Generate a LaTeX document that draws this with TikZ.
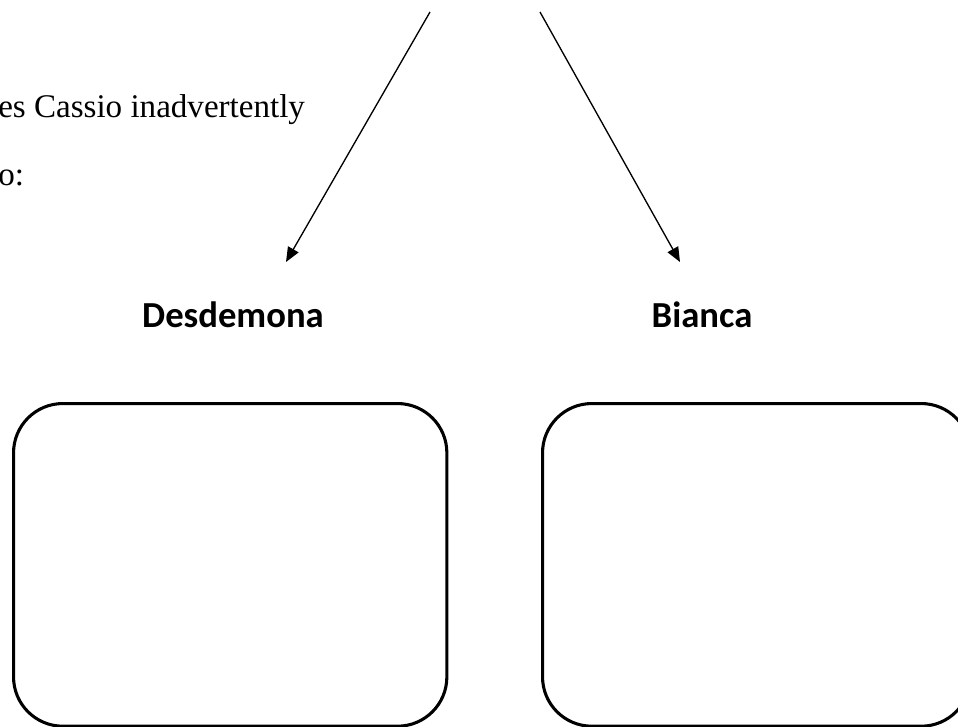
\documentclass[tikz,border=0pt]{standalone}
\usepackage{fontspec}
\setmainfont{Liberation Serif}
\newfontfamily\labelfont{Carlito}
\usetikzlibrary{arrows.meta}
\tikzset{
	namelabel/.style={font=\labelfont\bfseries\fontsize{27.5}{32}\selectfont, inner sep=0pt, anchor=base},
	bodytext/.style={font=\fontsize{24.8}{29}\selectfont, inner sep=0pt, anchor=base west},
	pointer/.style={line width=1pt, -{Triangle[length=11pt, width=9pt]}},
	answerbox/.style={draw, line width=2.3pt, rounded corners=37pt, minimum width=325pt, minimum height=242pt, inner sep=0pt, anchor=north west}
}
\begin{document}
\begin{tikzpicture}[x=0.75pt, y=-0.75pt]
		\useasboundingbox (0,0) rectangle (958,726);

	\node[bodytext] (line1) at (-2,117) {es Cassio inadvertently};
	\node[bodytext] (line2) at (-2,185) {o:};

	\coordinate (leftstart) at (430,12);
	\coordinate (rightstart) at (540,12);
	\coordinate (lefttip) at (286,262);
	\coordinate (righttip) at (680,262);
	\draw[pointer] (leftstart) -- (lefttip);
	\draw[pointer] (rightstart) -- (righttip);

	\node[namelabel] (desdemona) at (233,327) {Desdemona};
	\node[namelabel] (bianca) at (702,327) {Bianca};

	\node[answerbox] (desbox) at (12,402) {};
	\node[answerbox, minimum width=321pt] (biabox) at (541,402) {};
		\end{tikzpicture}
\end{document}
